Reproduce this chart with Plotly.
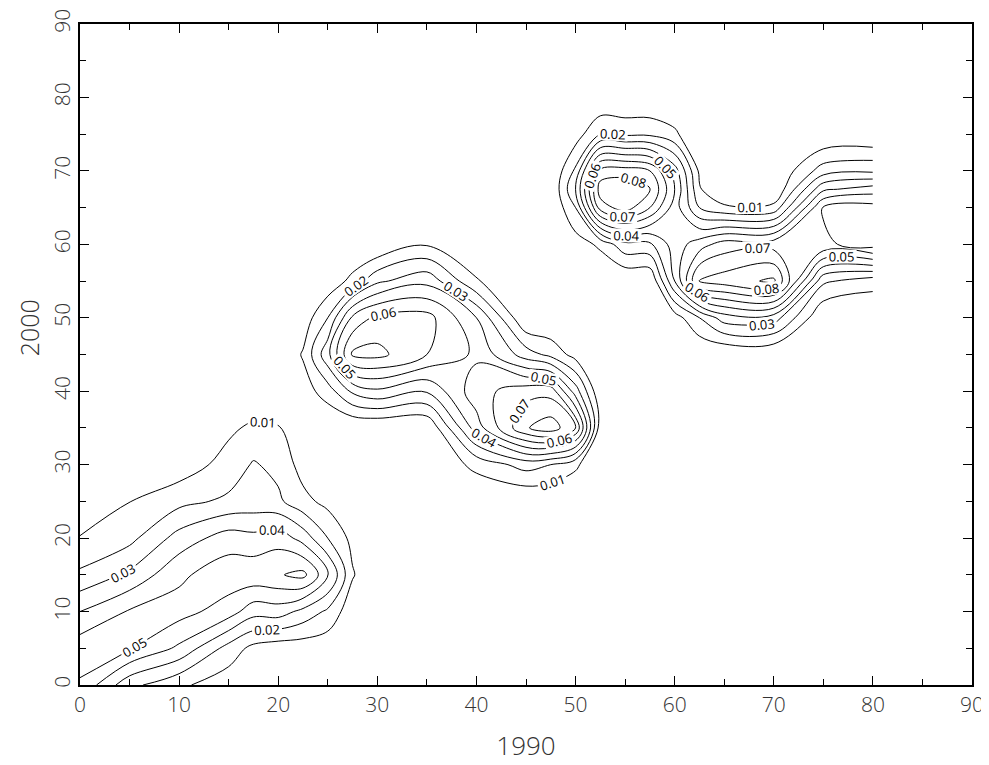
import plotly.graph_objects as go

# grid coordinates (units of the 1990 / 2000 axes)
x_vals = [0, 5, 10, 15, 17.5, 20, 22.5, 25, 27.5, 30, 35, 40, 45, 47.5, 50, 52.5,
          55, 57.5, 60, 62.5, 65, 70, 75, 80]
y_vals = [0, 5, 10, 15, 20, 25, 30, 35, 40, 45, 50, 55, 60, 65, 67.5, 70, 75, 80]

# density values, one row per y value (columns follow x_vals)
z_y00 = [0.0485, 0.023, 0.012, 0.004, 0, 0, 0, 0, 0, 0, 0, 0, 0, 0, 0, 0, 0, 0, 0, 0, 0, 0, 0, 0]
z_y05 = [0.056, 0.051, 0.038, 0.016, 0.007, 0.004, 0.004, 0.003, 0, 0, 0, 0, 0, 0, 0, 0, 0, 0, 0, 0, 0, 0, 0, 0]
z_y10 = [0.040, 0.051, 0.054, 0.045, 0.034, 0.035, 0.027, 0.018, 0.003, 0, 0, 0, 0, 0, 0, 0, 0, 0, 0, 0, 0, 0, 0, 0]
z_y15 = [0.022, 0.032, 0.048, 0.056, 0.057, 0.059, 0.063, 0.042, 0.011, 0, 0, 0, 0, 0, 0, 0, 0, 0, 0, 0, 0, 0, 0, 0]
z_y20 = [0.0105, 0.017, 0.034, 0.045, 0.043, 0.046, 0.036, 0.020, 0.007, 0, 0, 0, 0, 0, 0, 0, 0, 0, 0, 0, 0, 0, 0, 0]
z_y25 = [0.003, 0.0098, 0.017, 0.022, 0.024, 0.022, 0.013, 0.007, 0, 0, 0, 0, 0, 0, 0, 0, 0, 0, 0, 0, 0, 0, 0, 0]
z_y30 = [0, 0, 0.004, 0.014, 0.021, 0.017, 0.006, 0.002, 0, 0, 0, 0.013, 0.024, 0.020, 0.012, 0, 0, 0, 0, 0, 0, 0, 0, 0]
z_y35 = [0, 0, 0, 0.008, 0.012, 0.011, 0, 0, 0, 0, 0, 0.045, 0.079, 0.086, 0.070, 0.004, 0, 0, 0, 0, 0, 0, 0, 0]
z_y40 = [0, 0, 0, 0, 0, 0, 0.005, 0.015, 0.032, 0.038, 0.031, 0.056, 0.066, 0.066, 0.035, 0.001, 0, 0, 0, 0, 0, 0, 0, 0]
z_y45 = [0, 0, 0, 0, 0, 0, 0.011, 0.037, 0.072, 0.073, 0.060, 0.048, 0.025, 0.017, 0.006, 0, 0, 0, 0, 0, 0, 0, 0, 0]
z_y50 = [0, 0, 0, 0, 0, 0, 0.004, 0.020, 0.052, 0.063, 0.064, 0.040, 0, 0, 0, 0, 0, 0, 0.005, 0.020, 0.035, 0.035, 0, 0]
z_y55 = [0, 0, 0, 0, 0, 0, 0, 0.003, 0.013, 0.028, 0.037, 0.011, 0, 0, 0, 0, 0, 0, 0.040, 0.082, 0.085, 0.092, 0.022, 0.014]
z_y60 = [0, 0, 0, 0, 0, 0, 0, 0, 0, 0, 0.009, 0, 0, 0, 0.005, 0.012, 0.027, 0.028, 0.045, 0.055, 0.065, 0.066, 0.068, 0.075]
z_y65 = [0, 0, 0, 0, 0, 0, 0, 0, 0, 0, 0, 0, 0, 0, 0.020, 0.075, 0.085, 0.070, 0.045, 0.020, 0.012, 0.013, 0.071, 0.074]
z_y675 = [0, 0, 0, 0, 0, 0, 0, 0, 0, 0, 0, 0, 0, 0, 0.030, 0.085, 0.088, 0.081, 0.050, 0.011, 0, 0, 0.048, 0.055]
z_y70 = [0, 0, 0, 0, 0, 0, 0, 0, 0, 0, 0, 0, 0, 0, 0.022, 0.074, 0.075, 0.070, 0.045, 0.008, 0, 0, 0.025, 0.028]
z_y75 = [0, 0, 0, 0, 0, 0, 0, 0, 0, 0, 0, 0, 0, 0, 0.005, 0.020, 0.018, 0.018, 0.012, 0, 0, 0, 0, 0]
z_y80 = [0, 0, 0, 0, 0, 0, 0, 0, 0, 0, 0, 0, 0, 0, 0, 0, 0, 0, 0, 0, 0, 0, 0, 0]

z_rows = [z_y00, z_y05, z_y10, z_y15, z_y20, z_y25, z_y30, z_y35, z_y40,
          z_y45, z_y50, z_y55, z_y60, z_y65, z_y675, z_y70, z_y75, z_y80]

x_ticks = [0, 10, 20, 30, 40, 50, 60, 70, 80, 90]
y_ticks = [0, 10, 20, 30, 40, 50, 60, 70, 80, 90]
x_title = '1990'
y_title = '2000'

FONT = 'Open Sans, DejaVu Sans'
TEXT_COLOR = '#333'
W = 300

fig = go.Figure(go.Contour(
    x=x_vals, y=y_vals, z=z_rows,
    contours=dict(start=0.01, end=0.09, size=0.01, coloring='lines',
                  showlabels=True,
                  labelfont=dict(size=13, color='black', family=FONT, weight=400),
                  labelformat='.2f'),
    colorscale=[[0, 'black'], [1, 'black']],
    showscale=False,
    line=dict(width=1, smoothing=1),
    hoverinfo='skip',
))

axis_common = dict(
    range=[0, 90], tickmode='array', showgrid=False, zeroline=False,
    ticks='inside', ticklen=9, tickwidth=1, tickcolor='black',
    showline=True, linecolor='black', linewidth=2, mirror='allticks',
    automargin=False,
    tickfont=dict(size=21, color=TEXT_COLOR, family=FONT, weight=W),
    minor=dict(dtick=5, tick0=0, ticks='inside', ticklen=6, tickwidth=1,
               tickcolor='black', showgrid=False),
)

fig.update_xaxes(**axis_common, tickvals=x_ticks, ticktext=[str(v) for v in x_ticks],
                 title=dict(text=x_title, font=dict(size=26, color=TEXT_COLOR, family=FONT, weight=W),
                            standoff=20))
fig.update_yaxes(**axis_common, tickvals=y_ticks, ticktext=[str(v) for v in y_ticks],
                 tickangle=-90)

fig.add_annotation(
    text=y_title, textangle=-90, showarrow=False,
    xref='paper', x=-0.057, xanchor='center',
    yref='paper', y=0.54, yanchor='middle',
    font=dict(size=25, color=TEXT_COLOR, family=FONT, weight=W),
)

fig.update_layout(
    width=981, height=757,
    margin=dict(l=72, r=17, t=16, b=80),
    paper_bgcolor='white', plot_bgcolor='white',
    showlegend=False,
)

fig.write_html('out.html')
